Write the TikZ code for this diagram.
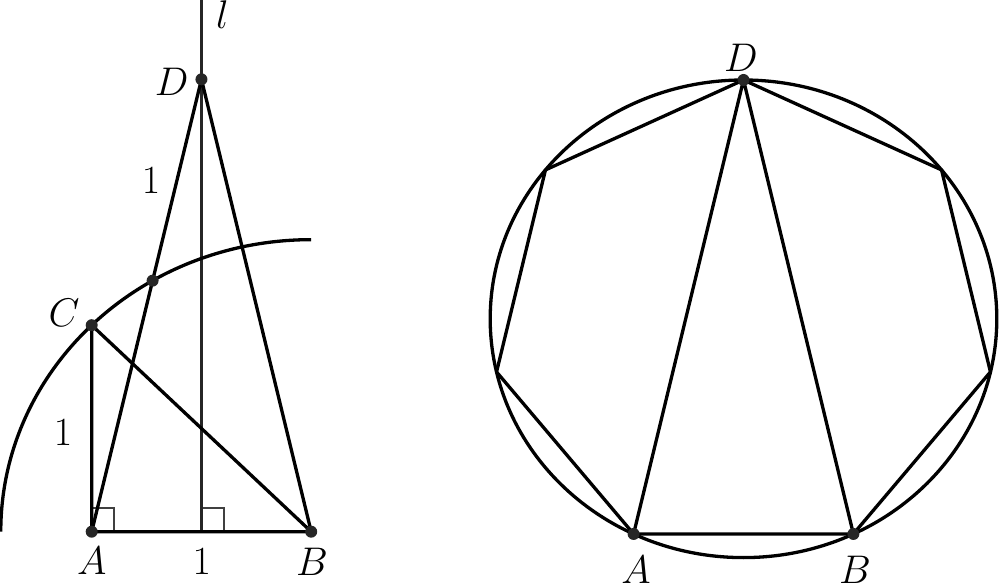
\RequirePackage{fix-cm}
\documentclass[tikz,border=0pt]{standalone}
\begin{document}
\begin{tikzpicture}[
  ln/.style={line width=3.3pt, black, line cap=round, line join=round},
  thinmark/.style={line width=1.5pt, black!75},
  lab/.style={inner sep=0pt, font=\fontsize{40}{42}\selectfont},
  dot/.style={circle, fill=black!85, inner sep=0pt, minimum size=12pt}
]
\useasboundingbox (0,0) rectangle (999pt,584pt);
% ---------- left figure ----------
\begin{scope}[shift={(91.7pt,52.3pt)}, x=219.5pt, y=206.5pt]
  \coordinate (A) at (0,0);
  \coordinate (B) at (1,0);
  \coordinate (C) at (0,1);
  \coordinate (D) at (0.5,2.19064);
  \coordinate (P) at (0.27748,1.21572);
  \coordinate (F) at (0.5,0);
  \coordinate (T) at (0.5,2.58);
  \coordinate (E) at (-0.41421,0);
  \draw[thinmark] (0.102,0) -- (0.102,0.115) -- (0,0.115);
  \draw[thinmark] (0.602,0) -- (0.602,0.115) -- (0.5,0.115);
  \draw[ln, black!85, line cap=butt] (F) -- (T);
  \draw[ln] (A) -- (B) -- (C) -- cycle;
  \draw[ln] (A) -- (D) -- (B);
  \draw[ln, line cap=butt] (E) arc[start angle=180, end angle=90, x radius=310.42pt, y radius=292.04pt];
  \node[dot] (dA) at (A) {};
  \node[dot] (dB) at (B) {};
  \node[dot] (dC) at (C) {};
  \node[dot] (dD) at (D) {};
  \node[dot] (dP) at (P) {};
  \node[lab] (lA) at (0,-0.142) {$A$};
  \node[lab] (lB) at (1.004,-0.147) {$B$};
  \node[lab] (lAB) at (0.502,-0.144) {$1$};
  \node[lab] (lC) at (-0.126,1.059) {$C$};
  \node[lab] (lD) at (0.364,2.180) {$D$};
  \node[lab] (ll) at (0.596,2.502) {$l$};
  \node[lab] (lAC) at (-0.131,0.478) {$1$};
  \node[lab] (lDP) at (0.270,1.698) {$1$};
\end{scope}
% ---------- right figure ----------
\begin{scope}[shift={(743.5pt,265.2pt)}, x=253.3pt, y=238.8pt]
  \foreach \i in {0,...,6}
    \coordinate (V\i) at ({cos(90+\i*360/7)},{sin(90+\i*360/7)});
  \coordinate (O) at (0,0);
  \draw[ln] (O) ellipse[x radius=253.3pt, y radius=238.8pt];
  \draw[ln] (V0) -- (V1) -- (V2) -- (V3) -- (V4) -- (V5) -- (V6) -- cycle;
  \draw[ln] (V3) -- (V0) -- (V4);
  \node[dot] (rD) at (V0) {};
  \node[dot] (rA) at (V3) {};
  \node[dot] (rB) at (V4) {};
  \node[lab] (rlD) at (-0.01,1.092) {$D$};
  \node[lab] (rlA) at (-0.424,-1.050) {$A$};
  \node[lab] (rlB) at (0.440,-1.050) {$B$};
\end{scope}
\end{tikzpicture}
\end{document}
